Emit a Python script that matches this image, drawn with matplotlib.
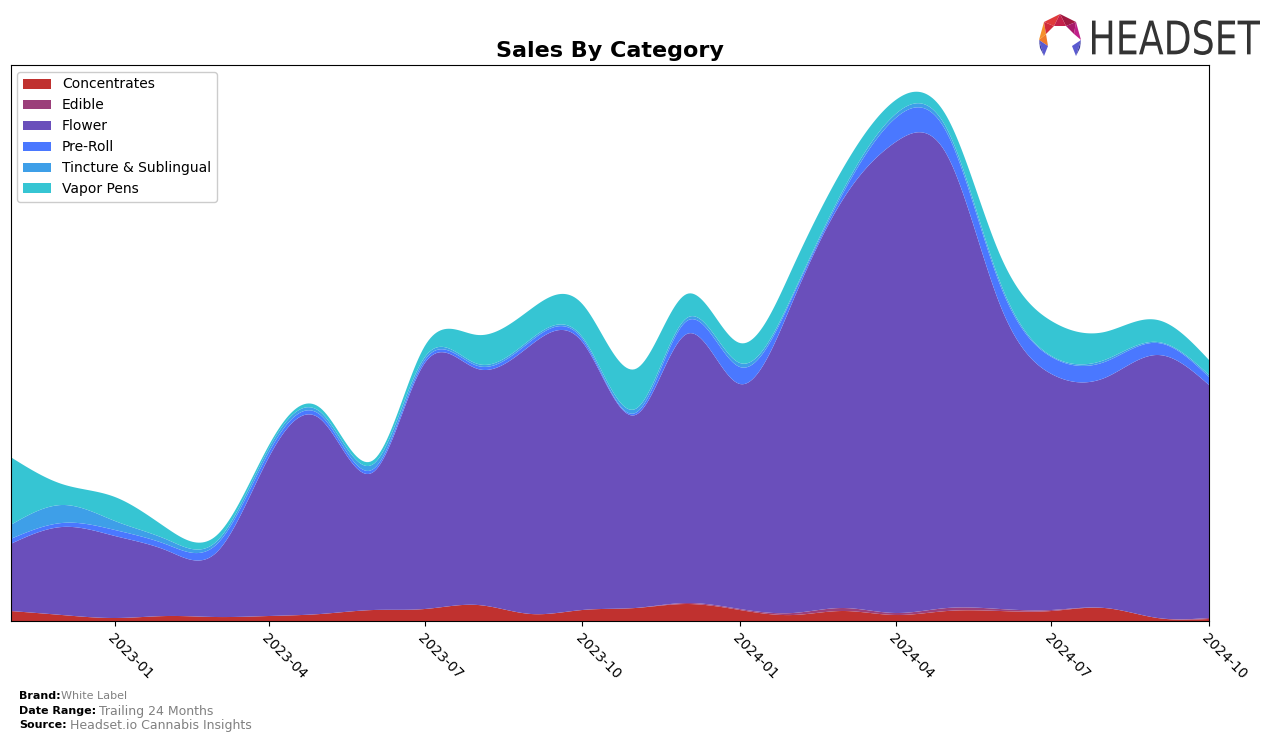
import numpy as np
import pandas as pd
import matplotlib
matplotlib.use("Agg")
from matplotlib import pyplot as plt
import matplotlib.dates as mdates
from matplotlib.patches import Polygon, PathPatch
from matplotlib.textpath import TextPath
from matplotlib.font_manager import FontProperties

# monthly sales by category (arbitrary units)
months = pd.date_range("2022-11-01", "2024-10-01", freq="MS")
categories = ["Concentrates", "Edible", "Flower", "Pre-Roll", "Tincture & Sublingual", "Vapor Pens"]
colors = ["#c0312f", "#9b3f7a", "#6a4fbb", "#4a78ff", "#3e9fe8", "#36c5d3"]

concentrates = [10, 6, 3, 5, 4, 5, 7, 11, 12, 16, 7, 11, 13, 17, 11, 6, 10, 6, 10, 10, 10, 13, 3, 2]
edible = [0, 0, 0, 0, 0, 0, 0, 0, 0, 0, 0, 0, 0, 1, 1, 2, 3, 2, 3, 2, 1, 0, 0, 1]
flower = [67, 88, 82, 65, 64, 159, 195, 138, 246, 236, 269, 268, 193, 269, 225, 312, 408, 471, 453, 304, 236, 230, 263, 233]
pre_roll = [5, 4, 6, 6, 8, 5, 4, 3, 3, 3, 4, 3, 2, 13, 17, 5, 6, 24, 22, 20, 17, 16, 12, 8]
tincture = [14, 18, 9, 5, 3, 4, 3, 5, 3, 2, 2, 2, 4, 3, 4, 2, 3, 4, 4, 3, 1, 2, 1, 2]
vapor_pens = [68, 21, 24, 11, 6, 3, 4, 4, 11, 29, 30, 33, 40, 24, 20, 27, 22, 14, 12, 27, 35, 28, 22, 15]


def smooth(x, y, xs):
    # natural cubic spline through the monthly points
    x = np.asarray(x, float)
    y = np.asarray(y, float)
    n = len(x)
    h = np.diff(x)
    A = np.zeros((n, n))
    r = np.zeros(n)
    A[0, 0] = A[-1, -1] = 1
    for i in range(1, n - 1):
        A[i, i - 1] = h[i - 1]
        A[i, i] = 2 * (h[i - 1] + h[i])
        A[i, i + 1] = h[i]
        r[i] = 3 * ((y[i + 1] - y[i]) / h[i] - (y[i] - y[i - 1]) / h[i - 1])
    c = np.linalg.solve(A, r)
    b = (y[1:] - y[:-1]) / h - h * (2 * c[:-1] + c[1:]) / 3
    d = (c[1:] - c[:-1]) / (3 * h)
    idx = np.clip(np.searchsorted(x, xs) - 1, 0, n - 2)
    dx = xs - x[idx]
    return y[idx] + b[idx] * dx + c[idx] * dx ** 2 + d[idx] * dx ** 3


xnum = mdates.date2num(months)
xs = np.linspace(xnum[0], xnum[-1], 600)
series = [concentrates, edible, flower, pre_roll, tincture, vapor_pens]
ys = [np.clip(smooth(xnum, s, xs), 0, None) for s in series]

fig = plt.figure(figsize=(12.76, 7.41), dpi=100)
ax = fig.add_axes([10.5 / 1276, 1 - 621 / 741, 1198.5 / 1276, 556 / 741])
ax.stackplot(mdates.num2date(xs), *ys, labels=categories, colors=colors)

ax.set_xlim(months[0], months[-1])
ax.set_ylim(0, 556)
ax.set_yticks([])
ax.xaxis.set_major_locator(mdates.MonthLocator(bymonth=[1, 4, 7, 10]))
ax.xaxis.set_major_formatter(mdates.DateFormatter("%Y-%m"))
plt.setp(ax.get_xticklabels(), rotation=-45, ha="left", rotation_mode="anchor", fontsize=10)
ax.set_title("Sales By Category", fontsize=16, fontweight="bold", pad=6)
ax.legend(loc="upper left", fontsize=10, framealpha=1)

# footer
fig.text(19 / 1276, 1 - 696 / 741, "Brand:", fontsize=8, fontweight="bold", va="center")
fig.text(61 / 1276, 1 - 696 / 741, "White Label", fontsize=8, color="gray", va="center")
fig.text(19 / 1276, 1 - 711 / 741, "Date Range:", fontsize=8, fontweight="bold", va="center")
fig.text(99 / 1276, 1 - 711 / 741, "Trailing 24 Months", fontsize=9, color="gray", va="center")
fig.text(19 / 1276, 1 - 725 / 741, "Source:", fontsize=8, fontweight="bold", va="center")
fig.text(70 / 1276, 1 - 725 / 741, "Headset.io Cannabis Insights", fontsize=9, color="gray", va="center")

# logo word, squeezed into its box
tp = TextPath((0, 0), "HEADSET", size=10, prop=FontProperties(family="DejaVu Sans"))
ext = tp.get_extents()
wax = fig.add_axes([1092 / 1276, 1 - 55 / 741, 168 / 1276, 35 / 741])
wax.set_xlim(ext.x0, ext.x1)
wax.set_ylim(ext.y0, ext.y1)
wax.axis("off")
wax.add_patch(PathPatch(tp, facecolor="#333333", edgecolor="none"))

# logo icon
lax = fig.add_axes([1036 / 1276, 1 - 60 / 741, 50 / 1276, 48 / 741])
lax.set_xlim(0, 50)
lax.set_ylim(48, 0)
lax.axis("off")
pieces = [
    ([(3, 28), (10, 22), (12, 34)], "#f07a2a"),
    ([(3, 28), (8, 10), (10, 22)], "#f5902a"),
    ([(8, 10), (24, 2), (18, 14)], "#e03a3a"),
    ([(8, 10), (18, 14), (10, 22)], "#d02a3a"),
    ([(24, 2), (40, 10), (30, 14)], "#a01840"),
    ([(24, 2), (30, 14), (18, 14)], "#c4204a"),
    ([(40, 10), (45, 28), (38, 22)], "#c0208a"),
    ([(40, 10), (38, 22), (30, 14)], "#a8186a"),
    ([(3, 28), (12, 34), (8, 44)], "#5a5ad0"),
    ([(3, 28), (8, 44), (4, 36)], "#3a3aa0"),
    ([(45, 28), (36, 34), (40, 44)], "#5a5ad0"),
    ([(45, 28), (40, 44), (44, 36)], "#3a3aa0"),
]
for pts, col in pieces:
    lax.add_patch(Polygon(pts, closed=True, facecolor=col, edgecolor="none"))

fig.savefig("out.png", dpi=100)
